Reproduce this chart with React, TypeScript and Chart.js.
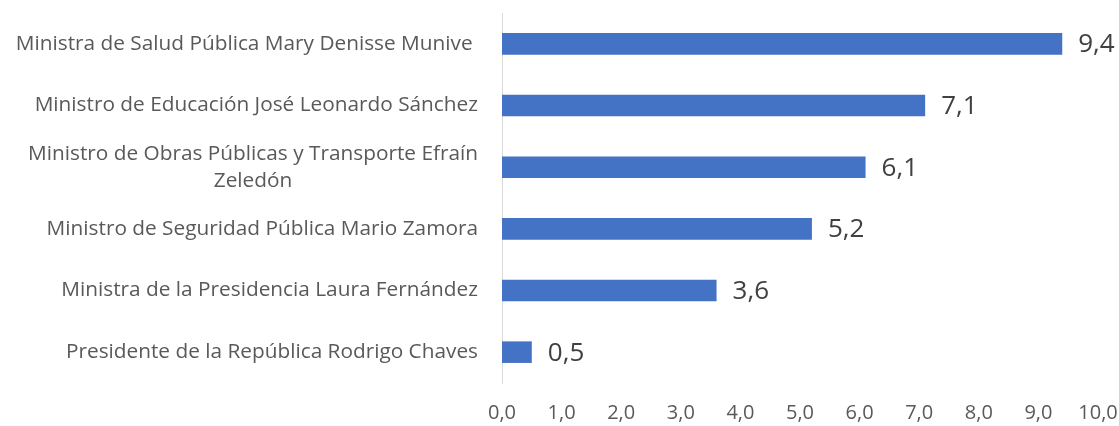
import React, { useEffect, useRef } from "react";
import { Chart, registerables } from "chart.js";
Chart.register(...registerables);

const categories: string[][] = [
  ["Ministra de Salud Pública Mary Denisse Munive "],
  ["Ministro de Educación José Leonardo Sánchez"],
  ["Ministro de Obras Públicas y Transporte Efraín", "Zeledón"],
  ["Ministro de Seguridad Pública Mario Zamora"],
  ["Ministra de la Presidencia Laura Fernández"],
  ["Presidente de la República Rodrigo Chaves"],
];
const values: number[] = [9.4, 7.1, 6.1, 5.2, 3.6, 0.5];
const xTicks: number[] = [0, 1, 2, 3, 4, 5, 6, 7, 8, 9, 10];

const FONT = "'Open Sans', 'Noto Sans', sans-serif";
const fmt = (v: number) => v.toFixed(1).replace(".", ",");

const yLabelPlugin = {
  id: "yLabelPlugin",
  afterDraw(chart: any) {
    const ctx = chart.ctx;
    const ys = chart.scales.y;
    ctx.save();
    ctx.font = `20.8px ${FONT}`;
    ctx.fillStyle = "#595959";
    ctx.textBaseline = "middle";
    const right = 478;
    const lh = 27;
    categories.forEach((lines, i) => {
      const py = ys.getPixelForValue(i);
      const widths = lines.map((l) => ctx.measureText(l).width);
      const maxW = Math.max(...widths);
      const cx = right - maxW / 2;
      const start = py - ((lines.length - 1) * lh) / 2;
      lines.forEach((l, j) => {
        ctx.textAlign = "center";
        ctx.fillText(l, cx, start + j * lh);
      });
    });
    ctx.restore();
  },
};

const dataLabelPlugin = {
  id: "dataLabelPlugin",
  afterDatasetsDraw(chart: any) {
    const ctx = chart.ctx;
    const meta = chart.getDatasetMeta(0);
    ctx.save();
    ctx.font = `26px ${FONT}`;
    ctx.fillStyle = "#404040";
    ctx.textAlign = "left";
    ctx.textBaseline = "middle";
    meta.data.forEach((el: any, i: number) => {
      ctx.fillText(fmt(values[i]), el.x + 16, el.y + 1);
    });
    ctx.restore();
  },
};

export default function App() {
  const ref = useRef<HTMLCanvasElement | null>(null);
  useEffect(() => {
    document.body.style.margin = "0";
    if (!ref.current) return;
    const chart = new Chart(ref.current, {
      type: "bar",
      data: {
        labels: categories.map((c) => c.join(" ")),
        datasets: [
          {
            data: values,
            backgroundColor: "#4472C4",
            borderWidth: 0,
            categoryPercentage: 1,
            barPercentage: 0.35,
          },
        ],
      },
      options: {
        indexAxis: "y",
        animation: false,
        responsive: false,
        layout: { padding: { top: 13, right: 0, left: 0, bottom: 0 } },
        plugins: { legend: { display: false }, tooltip: { enabled: false } },
        scales: {
          y: {
            grid: { display: false, drawTicks: false },
            border: { display: true, color: "#d9d9d9", width: 1 },
            ticks: { display: false },
            afterFit: (s: any) => {
              s.width = 502;
              s.paddingTop = 0;
              s.paddingBottom = 0;
            },
          },
          x: {
            min: 0,
            max: 10,
            grid: { display: false, drawTicks: false },
            border: { display: false },
            afterBuildTicks: (s: any) => {
              s.ticks = xTicks.map((v) => ({ value: v }));
            },
            ticks: {
              padding: 18,
              color: "#595959",
              font: { family: FONT, size: 20 },
              callback: (v: any) => fmt(Number(v)),
              maxRotation: 0,
              autoSkip: false,
            },
            afterFit: (s: any) => {
              s.height = 43;
              s.paddingLeft = 0;
              s.paddingRight = 21;
            },
          },
        },
      },
      plugins: [yLabelPlugin, dataLabelPlugin],
    });
    return () => chart.destroy();
  }, []);
  return (
    <div style={{ width: 1119, height: 426 }}>
      <canvas ref={ref} width={1119} height={426} />
    </div>
  );
}
